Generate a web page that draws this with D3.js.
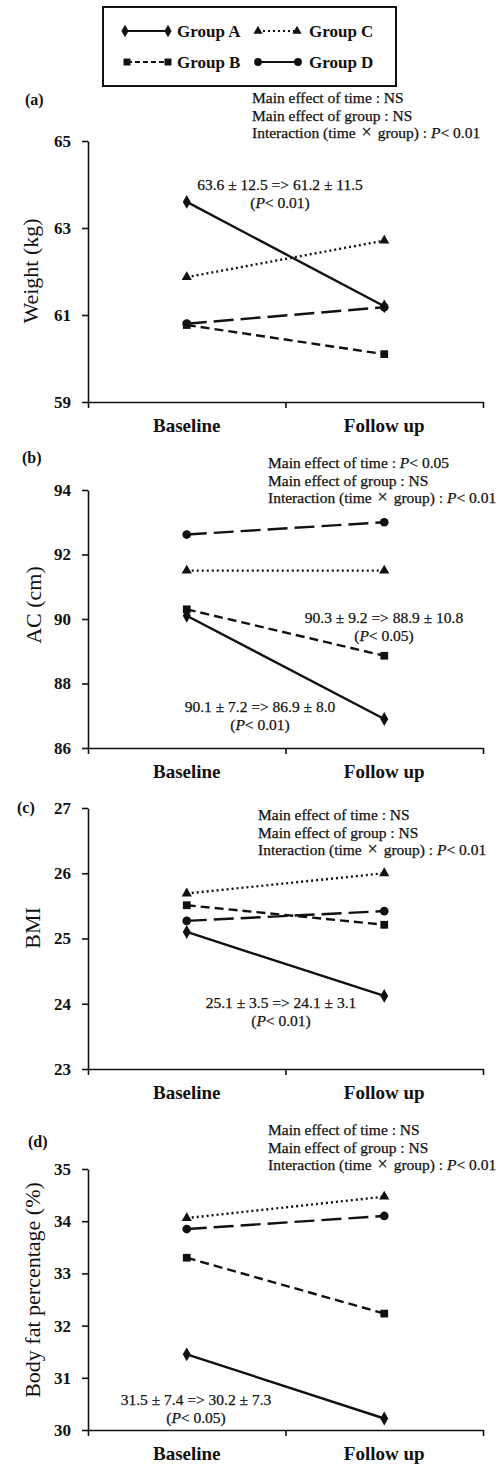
<!DOCTYPE html>
<html>
<head>
<meta charset="utf-8">
<script src="https://cdn.jsdelivr.net/npm/d3@7"></script>
<style>
  body { margin: 0; background: #fff; }
  svg { display: block; font-family: "Liberation Serif", "Times New Roman", serif; }
</style>
</head>
<body>
<svg id="chart" width="502" height="1464"></svg>
<script>
// data
const groups = ["Group A", "Group B", "Group C", "Group D"];
const timepoints = ["Baseline", "Follow up"];

// [baseline, follow up] per group (A, B, C, D)
const weightValues = [[63.6, 61.2], [60.77, 60.1], [61.87, 62.71], [60.8, 61.18]];
const acValues = [[90.1, 86.9], [90.3, 88.86], [91.5, 91.5], [92.62, 93.0]];
const bmiValues = [[25.1, 24.12], [25.51, 25.21], [25.69, 26.0], [25.27, 25.42]];
const fatValues = [[31.45, 30.22], [33.3, 32.23], [34.06, 34.47], [33.85, 34.1]];

const weightTicks = [59, 61, 63, 65];
const acTicks = [86, 88, 90, 92, 94];
const bmiTicks = [23, 24, 25, 26, 27];
const fatTicks = [30, 31, 32, 33, 34, 35];

const weightStats = ["Main effect of time : NS", "Main effect of group : NS", "Interaction (time × group) : P< 0.01"];
const acStats = ["Main effect of time : P< 0.05", "Main effect of group : NS", "Interaction (time × group) : P< 0.01"];
const bmiStats = ["Main effect of time : NS", "Main effect of group : NS", "Interaction (time × group) : P< 0.01"];
const fatStats = ["Main effect of time : NS", "Main effect of group : NS", "Interaction (time × group) : P< 0.01"];

const weightNotes = [["63.6 ± 12.5 => 61.2 ± 11.5", "(P< 0.01)"]];
const acNotes = [["90.3 ± 9.2 => 88.9 ± 10.8", "(P< 0.05)"], ["90.1 ± 7.2 => 86.9 ± 8.0", "(P< 0.01)"]];
const bmiNotes = [["25.1 ± 3.5 => 24.1 ± 3.1", "(P< 0.01)"]];
const fatNotes = [["31.5 ± 7.4 => 30.2 ± 7.3", "(P< 0.05)"]];

// layout of each panel
const panels = [
  { tag: "(a)", values: weightValues, ticks: weightTicks, yLabel: "Weight (kg)", stats: weightStats, notes: weightNotes,
    top: 141, bottom: 402, tagPos: [25, 105], statsPos: [252, 103], yLabelPos: [30, 271], notePos: [[280, 190]] },
  { tag: "(b)", values: acValues, ticks: acTicks, yLabel: "AC (cm)", stats: acStats, notes: acNotes,
    top: 490, bottom: 748, tagPos: [22, 463], statsPos: [268, 468], yLabelPos: [33, 605], notePos: [[384, 623], [260, 712]] },
  { tag: "(c)", values: bmiValues, ticks: bmiTicks, yLabel: "BMI", stats: bmiStats, notes: bmiNotes,
    top: 808, bottom: 1069, tagPos: [17, 813], statsPos: [258, 820], yLabelPos: [32, 928], notePos: [[281, 1008]] },
  { tag: "(d)", values: fatValues, ticks: fatTicks, yLabel: "Body fat percentage (%)", stats: fatStats, notes: fatNotes,
    top: 1169, bottom: 1430, tagPos: [28, 1147], statsPos: [268, 1135], yLabelPos: [32, 1290], notePos: [[196, 1405]] }
];

// style per group
const dashes = [null, "9,5", "2,3", "20,7"];
const legendDashes = [null, "5,3", "2,3", null];
const symbols = [d3.symbolDiamond, d3.symbolSquare, d3.symbolTriangle, d3.symbolCircle];
const symbolSizes = [55, 60, 45, 60];

const svg = d3.select("#chart");
const left = 88, right = 483;

const xEdge = d3.scaleLinear().domain([0, 2]).range([left, right]);
const x = d3.scalePoint().domain(timepoints).range([left, right]).padding(0.5);

// text with italic P and a wide times sign
function richText(sel, str) {
  let pad = 0;
  str.split(/(P(?=<)|×)/).forEach((part) => {
    if (!part) return;
    const ts = sel.append("tspan").text(part);
    ts.style("font-style", part === "P" ? "italic" : "normal");
    if (part === "×") {
      ts.attr("dx", 2).style("font-size", "18px");
      pad = 2;
    } else if (pad) {
      ts.attr("dx", pad);
      pad = 0;
    }
  });
}

panels.forEach((p) => {
  const y = d3.scaleLinear()
    .domain(d3.extent(p.ticks))
    .range([p.bottom, p.top]);

  const g = svg.append("g");

  // y axis
  const yAxis = g.append("g")
    .attr("transform", `translate(${left},0)`)
    .call(d3.axisLeft(y).tickValues(p.ticks).tickSize(6).tickSizeOuter(0).tickPadding(11).tickFormat(d3.format("d")));
  yAxis.selectAll("text")
    .style("font-family", "Liberation Serif")
    .style("font-size", "17px")
    .style("font-weight", "bold")
    .attr("fill", "#111");

  // x axis with ticks at band edges
  g.append("g")
    .attr("transform", `translate(0,${p.bottom})`)
    .call(d3.axisBottom(xEdge).tickValues([0, 1, 2]).tickSize(6).tickSizeOuter(0).tickFormat(""));

  g.selectAll(".domain, .tick line")
    .attr("stroke", "#111")
    .attr("stroke-width", 1.6);

  g.selectAll("text.cat")
    .data(timepoints)
    .enter()
    .append("text")
    .attr("class", "cat")
    .attr("x", (d) => x(d))
    .attr("y", p.bottom + 30)
    .attr("text-anchor", "middle")
    .style("font-size", "19px")
    .style("font-weight", "bold")
    .attr("fill", "#111")
    .text((d) => d);

  // y label
  g.append("text")
    .attr("transform", `translate(${p.yLabelPos[0]},${p.yLabelPos[1]}) rotate(-90)`)
    .attr("text-anchor", "middle")
    .attr("dy", "0.35em")
    .style("font-size", "22px")
    .attr("fill", "#111")
    .text(p.yLabel);

  // panel tag
  g.append("text")
    .attr("x", p.tagPos[0])
    .attr("y", p.tagPos[1])
    .style("font-size", "16px")
    .style("font-weight", "bold")
    .attr("fill", "#111")
    .text(p.tag);

  // stats block
  p.stats.forEach((line, i) => {
    const t = g.append("text")
      .attr("x", p.statsPos[0])
      .attr("y", p.statsPos[1] + i * 17.5)
      .style("font-size", "15.5px")
      .attr("fill", "#111")
      .attr("stroke", "#111")
      .attr("stroke-width", 0.25);
    richText(t, line);
  });

  // group notes
  p.notes.forEach((lines, k) => {
    lines.forEach((line, i) => {
      const t = g.append("text")
        .attr("x", p.notePos[k][0])
        .attr("y", p.notePos[k][1] + i * 18)
        .attr("text-anchor", "middle")
        .style("font-size", "15.5px")
        .attr("fill", "#111")
        .attr("stroke", "#111")
        .attr("stroke-width", 0.25);
      richText(t, line);
    });
  });

  // lines and markers, group D first so A sits on top
  const line = d3.line()
    .x((d, i) => x(timepoints[i]))
    .y((d) => y(d));

  d3.range(groups.length).reverse().forEach((gi) => {
    g.append("path")
      .datum(p.values[gi])
      .attr("d", line)
      .attr("fill", "none")
      .attr("stroke", "#111")
      .attr("stroke-width", 2.4)
      .attr("stroke-dasharray", dashes[gi]);

    g.selectAll(null)
      .data(p.values[gi])
      .enter()
      .append("path")
      .attr("transform", (d, i) => `translate(${x(timepoints[i])},${y(d)})`)
      .attr("d", d3.symbol().type(symbols[gi]).size(symbolSizes[gi]))
      .attr("fill", "#111");
  });
});

// legend
const legend = svg.append("g");
legend.append("rect")
  .attr("x", 103)
  .attr("y", 7)
  .attr("width", 293)
  .attr("height", 79)
  .attr("fill", "none")
  .attr("stroke", "#111")
  .attr("stroke-width", 2);

const legendItems = [
  { x1: 125, x2: 168, tx: 177, ty: 31 },
  { x1: 127, x2: 168, tx: 177, ty: 62 },
  { x1: 258, x2: 297, tx: 309, ty: 31 },
  { x1: 258, x2: 298, tx: 309, ty: 62 }
];

groups.forEach((name, gi) => {
  const it = legendItems[gi];
  legend.append("line")
    .attr("x1", it.x1).attr("x2", it.x2)
    .attr("y1", it.ty).attr("y2", it.ty)
    .attr("stroke", "#111")
    .attr("stroke-width", 2)
    .attr("stroke-dasharray", legendDashes[gi]);
  [it.x1, it.x2].forEach((mx) => {
    legend.append("path")
      .attr("transform", `translate(${mx},${it.ty})`)
      .attr("d", d3.symbol().type(symbols[gi]).size(symbolSizes[gi] * 0.8))
      .attr("fill", "#111");
  });
  legend.append("text")
    .attr("x", it.tx)
    .attr("y", it.ty)
    .attr("dy", "0.35em")
    .style("font-size", "17px")
    .style("font-weight", "bold")
    .attr("fill", "#111")
    .text(name);
});
</script>
</body>
</html>
